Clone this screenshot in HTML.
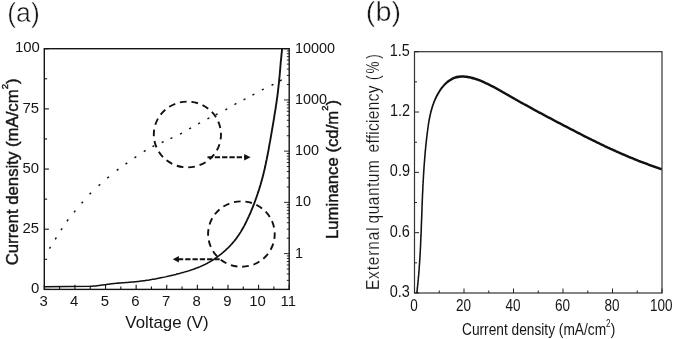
<!DOCTYPE html>
<html lang="en"><head><meta charset="utf-8"><title>Figure</title>
<style>html,body{margin:0;padding:0;background:#fff;}body{width:674px;height:339px;overflow:hidden;}#fig{width:674px;height:339px;will-change:transform;}svg{display:block;}text{font-family:"Liberation Sans", Arial, Helvetica, sans-serif;fill:#151515;}</style></head><body><div id="fig">
<svg width="674" height="339" viewBox="0 0 674 339">
<rect x="0" y="0" width="674" height="339" fill="#ffffff"/>
<rect x="44.30" y="48.70" width="244.90" height="240.70" fill="none" stroke="#151515" stroke-width="1.4"/>
<line x1="44.30" y1="289.40" x2="48.90" y2="289.40" stroke="#151515" stroke-width="1.10" />
<line x1="44.30" y1="259.31" x2="47.10" y2="259.31" stroke="#151515" stroke-width="1.10" />
<line x1="44.30" y1="229.22" x2="48.90" y2="229.22" stroke="#151515" stroke-width="1.10" />
<line x1="44.30" y1="199.14" x2="47.10" y2="199.14" stroke="#151515" stroke-width="1.10" />
<line x1="44.30" y1="169.05" x2="48.90" y2="169.05" stroke="#151515" stroke-width="1.10" />
<line x1="44.30" y1="138.96" x2="47.10" y2="138.96" stroke="#151515" stroke-width="1.10" />
<line x1="44.30" y1="108.88" x2="48.90" y2="108.88" stroke="#151515" stroke-width="1.10" />
<line x1="44.30" y1="78.79" x2="47.10" y2="78.79" stroke="#151515" stroke-width="1.10" />
<line x1="44.30" y1="48.70" x2="48.90" y2="48.70" stroke="#151515" stroke-width="1.10" />
<line x1="44.30" y1="289.40" x2="44.30" y2="284.80" stroke="#151515" stroke-width="1.10" />
<line x1="59.61" y1="289.40" x2="59.61" y2="286.60" stroke="#151515" stroke-width="1.10" />
<line x1="74.91" y1="289.40" x2="74.91" y2="284.80" stroke="#151515" stroke-width="1.10" />
<line x1="90.22" y1="289.40" x2="90.22" y2="286.60" stroke="#151515" stroke-width="1.10" />
<line x1="105.52" y1="289.40" x2="105.52" y2="284.80" stroke="#151515" stroke-width="1.10" />
<line x1="120.83" y1="289.40" x2="120.83" y2="286.60" stroke="#151515" stroke-width="1.10" />
<line x1="136.14" y1="289.40" x2="136.14" y2="284.80" stroke="#151515" stroke-width="1.10" />
<line x1="151.44" y1="289.40" x2="151.44" y2="286.60" stroke="#151515" stroke-width="1.10" />
<line x1="166.75" y1="289.40" x2="166.75" y2="284.80" stroke="#151515" stroke-width="1.10" />
<line x1="182.06" y1="289.40" x2="182.06" y2="286.60" stroke="#151515" stroke-width="1.10" />
<line x1="197.36" y1="289.40" x2="197.36" y2="284.80" stroke="#151515" stroke-width="1.10" />
<line x1="212.67" y1="289.40" x2="212.67" y2="286.60" stroke="#151515" stroke-width="1.10" />
<line x1="227.97" y1="289.40" x2="227.97" y2="284.80" stroke="#151515" stroke-width="1.10" />
<line x1="243.28" y1="289.40" x2="243.28" y2="286.60" stroke="#151515" stroke-width="1.10" />
<line x1="258.59" y1="289.40" x2="258.59" y2="284.80" stroke="#151515" stroke-width="1.10" />
<line x1="273.89" y1="289.40" x2="273.89" y2="286.60" stroke="#151515" stroke-width="1.10" />
<line x1="289.20" y1="289.40" x2="289.20" y2="284.80" stroke="#151515" stroke-width="1.10" />
<line x1="289.20" y1="280.38" x2="286.80" y2="280.38" stroke="#151515" stroke-width="0.90" />
<line x1="289.20" y1="273.98" x2="286.80" y2="273.98" stroke="#151515" stroke-width="0.90" />
<line x1="289.20" y1="269.02" x2="286.80" y2="269.02" stroke="#151515" stroke-width="0.90" />
<line x1="289.20" y1="264.96" x2="286.80" y2="264.96" stroke="#151515" stroke-width="0.90" />
<line x1="289.20" y1="261.53" x2="286.80" y2="261.53" stroke="#151515" stroke-width="0.90" />
<line x1="289.20" y1="258.56" x2="286.80" y2="258.56" stroke="#151515" stroke-width="0.90" />
<line x1="289.20" y1="255.94" x2="286.80" y2="255.94" stroke="#151515" stroke-width="0.90" />
<line x1="289.20" y1="253.60" x2="284.00" y2="253.60" stroke="#151515" stroke-width="0.90" />
<line x1="289.20" y1="238.18" x2="286.80" y2="238.18" stroke="#151515" stroke-width="0.90" />
<line x1="289.20" y1="229.16" x2="286.80" y2="229.16" stroke="#151515" stroke-width="0.90" />
<line x1="289.20" y1="222.76" x2="286.80" y2="222.76" stroke="#151515" stroke-width="0.90" />
<line x1="289.20" y1="217.80" x2="286.80" y2="217.80" stroke="#151515" stroke-width="0.90" />
<line x1="289.20" y1="213.74" x2="286.80" y2="213.74" stroke="#151515" stroke-width="0.90" />
<line x1="289.20" y1="210.31" x2="286.80" y2="210.31" stroke="#151515" stroke-width="0.90" />
<line x1="289.20" y1="207.34" x2="286.80" y2="207.34" stroke="#151515" stroke-width="0.90" />
<line x1="289.20" y1="204.72" x2="286.80" y2="204.72" stroke="#151515" stroke-width="0.90" />
<line x1="289.20" y1="202.38" x2="284.00" y2="202.38" stroke="#151515" stroke-width="0.90" />
<line x1="289.20" y1="186.95" x2="286.80" y2="186.95" stroke="#151515" stroke-width="0.90" />
<line x1="289.20" y1="177.93" x2="286.80" y2="177.93" stroke="#151515" stroke-width="0.90" />
<line x1="289.20" y1="171.53" x2="286.80" y2="171.53" stroke="#151515" stroke-width="0.90" />
<line x1="289.20" y1="166.57" x2="286.80" y2="166.57" stroke="#151515" stroke-width="0.90" />
<line x1="289.20" y1="162.51" x2="286.80" y2="162.51" stroke="#151515" stroke-width="0.90" />
<line x1="289.20" y1="159.08" x2="286.80" y2="159.08" stroke="#151515" stroke-width="0.90" />
<line x1="289.20" y1="156.11" x2="286.80" y2="156.11" stroke="#151515" stroke-width="0.90" />
<line x1="289.20" y1="153.49" x2="286.80" y2="153.49" stroke="#151515" stroke-width="0.90" />
<line x1="289.20" y1="151.15" x2="284.00" y2="151.15" stroke="#151515" stroke-width="0.90" />
<line x1="289.20" y1="135.73" x2="286.80" y2="135.73" stroke="#151515" stroke-width="0.90" />
<line x1="289.20" y1="126.71" x2="286.80" y2="126.71" stroke="#151515" stroke-width="0.90" />
<line x1="289.20" y1="120.31" x2="286.80" y2="120.31" stroke="#151515" stroke-width="0.90" />
<line x1="289.20" y1="115.35" x2="286.80" y2="115.35" stroke="#151515" stroke-width="0.90" />
<line x1="289.20" y1="111.29" x2="286.80" y2="111.29" stroke="#151515" stroke-width="0.90" />
<line x1="289.20" y1="107.86" x2="286.80" y2="107.86" stroke="#151515" stroke-width="0.90" />
<line x1="289.20" y1="104.89" x2="286.80" y2="104.89" stroke="#151515" stroke-width="0.90" />
<line x1="289.20" y1="102.27" x2="286.80" y2="102.27" stroke="#151515" stroke-width="0.90" />
<line x1="289.20" y1="99.93" x2="284.00" y2="99.93" stroke="#151515" stroke-width="0.90" />
<line x1="289.20" y1="84.50" x2="286.80" y2="84.50" stroke="#151515" stroke-width="0.90" />
<line x1="289.20" y1="75.48" x2="286.80" y2="75.48" stroke="#151515" stroke-width="0.90" />
<line x1="289.20" y1="69.08" x2="286.80" y2="69.08" stroke="#151515" stroke-width="0.90" />
<line x1="289.20" y1="64.12" x2="286.80" y2="64.12" stroke="#151515" stroke-width="0.90" />
<line x1="289.20" y1="60.06" x2="286.80" y2="60.06" stroke="#151515" stroke-width="0.90" />
<line x1="289.20" y1="56.63" x2="286.80" y2="56.63" stroke="#151515" stroke-width="0.90" />
<line x1="289.20" y1="53.66" x2="286.80" y2="53.66" stroke="#151515" stroke-width="0.90" />
<line x1="289.20" y1="51.04" x2="286.80" y2="51.04" stroke="#151515" stroke-width="0.90" />
<line x1="289.20" y1="48.70" x2="284.00" y2="48.70" stroke="#151515" stroke-width="0.90" />
<text transform="translate(31.08,293.15) scale(1.0000,1)" font-size="14.90" >0</text>
<text transform="translate(22.44,232.97) scale(1.0000,1)" font-size="14.90" >25</text>
<text transform="translate(22.40,172.80) scale(1.0000,1)" font-size="14.90" >50</text>
<text transform="translate(22.44,112.62) scale(1.0000,1)" font-size="14.90" >75</text>
<text transform="translate(14.91,52.45) scale(1.0000,1)" font-size="14.90" >100</text>
<text transform="translate(39.50,305.60) scale(1.0000,1)" font-size="14.90" >3</text>
<text transform="translate(70.12,305.60) scale(1.0000,1)" font-size="14.90" >4</text>
<text transform="translate(100.69,305.60) scale(1.0000,1)" font-size="14.90" >5</text>
<text transform="translate(131.24,305.60) scale(1.0000,1)" font-size="14.90" >6</text>
<text transform="translate(161.90,305.60) scale(1.0000,1)" font-size="14.90" >7</text>
<text transform="translate(192.52,305.60) scale(1.0000,1)" font-size="14.90" >8</text>
<text transform="translate(223.14,305.60) scale(1.0000,1)" font-size="14.90" >9</text>
<text transform="translate(249.32,305.60) scale(1.0000,1)" font-size="14.90" >10</text>
<text transform="translate(280.56,305.60) scale(1.0000,1)" font-size="14.90" >11</text>
<text transform="translate(295.00,52.70) scale(0.9700,1)" font-size="14.90" >10000</text>
<text transform="translate(295.00,103.93) scale(0.9700,1)" font-size="14.90" >1000</text>
<text transform="translate(295.00,155.15) scale(0.9700,1)" font-size="14.90" >100</text>
<text transform="translate(295.00,206.38) scale(0.9700,1)" font-size="14.90" >10</text>
<text transform="translate(295.00,257.60) scale(0.9700,1)" font-size="14.90" >1</text>
<text transform="translate(125.33,328.30) scale(1.0145,1)" font-size="16.60" >Voltage (V)</text>
<text transform="translate(17.80,265.34) rotate(-90) scale(0.9860,1)" font-size="17.00" stroke="#151515" stroke-width="0.42">Current density (mA/cm<tspan dy="-9.35" font-size="9.77">2</tspan><tspan dy="9.35">)</tspan></text>
<text transform="translate(338.20,239.07) rotate(-90) scale(0.9842,1)" font-size="17.00" stroke="#151515" stroke-width="0.42">Luminance (cd/m<tspan dy="-10.20" font-size="9.52">2</tspan><tspan dy="10.20">)</tspan></text>
<text transform="translate(7.25,21.50) scale(0.9850,1)" font-size="27.00" stroke="#fff" stroke-width="0.45">(a)</text>
<g transform="scale(1,0.800)">
<path d="M44.4 358.4 L90.0 357.7 L90.0 357.9 L91.2 357.8 L92.4 357.7 L93.6 357.6 L94.8 357.5 L95.9 357.4 L97.1 357.2 L98.3 357.0 L99.5 356.8 L100.7 356.6 L101.8 356.4 L103.0 356.2 L104.2 356.0 L105.4 355.8 L106.6 355.6 L107.7 355.4 L108.9 355.2 L110.1 355.0 L111.3 354.8 L112.4 354.7 L113.6 354.5 L114.8 354.3 L116.0 354.2 L117.2 354.1 L118.4 353.9 L119.5 353.8 L120.7 353.7 L121.9 353.5 L123.1 353.4 L124.3 353.3 L125.5 353.2 L126.7 353.1 L127.8 353.0 L129.0 352.8 L130.2 352.7 L131.4 352.6 L132.6 352.5 L133.8 352.4 L134.9 352.2 L136.1 352.1 L137.3 351.9 L138.5 351.8 L139.7 351.6 L140.9 351.4 L142.0 351.2 L143.2 351.0 L144.4 350.8 L145.6 350.6 L146.7 350.4 L147.9 350.2 L149.1 350.0 L150.3 349.7 L151.4 349.5 L152.6 349.2 L153.8 349.0 L155.0 348.7 L156.1 348.5 L157.3 348.2 L158.5 347.9 L159.6 347.6 L160.8 347.3 L162.0 347.0 L163.1 346.7 L164.3 346.4 L165.5 346.1 L166.6 345.8 L167.8 345.4 L168.9 345.1 L170.1 344.7 L171.3 344.4 L172.4 344.0 L173.6 343.7 L174.7 343.3 L175.9 343.0 L177.0 342.6 L178.2 342.2 L179.4 341.8 L180.5 341.4 L181.7 341.0 L182.8 340.6 L184.0 340.2 L185.1 339.8 L186.2 339.4 L187.4 339.0 L188.5 338.6 L189.7 338.1 L190.8 337.7 L191.9 337.2 L193.0 336.7 L194.2 336.2 L195.3 335.7 L196.4 335.2 L197.5 334.7 L198.6 334.1 L199.7 333.6 L200.8 333.0 L201.9 332.4 L203.0 331.8 L204.0 331.1 L205.1 330.5 L206.1 329.8 L207.2 329.1 L208.2 328.4 L209.3 327.7 L210.3 326.9 L211.3 326.2 L212.3 325.4 L213.3 324.6 L214.3 323.8 L215.3 322.9 L216.3 322.1 L217.3 321.2 L218.2 320.3 L219.2 319.4 L220.1 318.5 L221.1 317.6 L222.0 316.6 L222.9 315.7 L223.8 314.7 L224.7 313.7 L225.6 312.7 L226.5 311.7 L227.3 310.7 L228.2 309.7 L229.0 308.6 L229.9 307.5 L230.7 306.4 L231.5 305.4 L232.3 304.2 L233.0 303.1 L233.8 302.0 L234.6 300.8 L235.3 299.7 L236.0 298.5 L236.7 297.3 L237.4 296.1 L238.1 294.9 L238.8 293.7 L239.4 292.5 L240.1 291.2 L240.7 290.0 L241.3 288.7 L241.9 287.4 L242.5 286.1 L243.1 284.8 L243.7 283.5 L244.3 282.2 L244.8 280.9 L245.4 279.6 L245.9 278.2 L246.4 276.9 L246.9 275.6 L247.4 274.2 L247.9 272.9 L248.4 271.5 L248.9 270.2 L249.4 268.8 L249.9 267.4 L250.4 266.1 L250.9 264.7 L251.3 263.3 L251.8 262.0 L252.2 260.6 L252.7 259.2 L253.1 257.8 L253.6 256.4 L254.0 255.0 L254.4 253.7 L254.8 252.3 L255.2 250.9 L255.6 249.5 L256.0 248.1 L256.4 246.7 L256.8 245.3 L257.2 243.9 L257.6 242.4 L258.0 241.0 L258.3 239.6 L258.7 238.2 L259.1 236.8 L259.4 235.4 L259.8 233.9 L260.1 232.5 L260.5 231.1 L260.8 229.7 L261.1 228.2 L261.4 226.8 L261.8 225.4 L262.1 223.9 L262.4 222.5 L262.7 221.1 L263.0 219.6 L263.3 218.2 L263.6 216.7 L263.8 215.3 L264.1 213.9 L264.4 212.4 L264.7 211.0 L264.9 209.5 L265.2 208.1 L265.4 206.6 L265.7 205.2 L265.9 203.7 L266.2 202.2 L266.4 200.8 L266.7 199.3 L266.9 197.9 L267.1 196.4 L267.4 195.0 L267.6 193.5 L267.8 192.0 L268.0 190.6 L268.3 189.1 L268.5 187.6 L268.7 186.2 L268.9 184.7 L269.1 183.2 L269.3 181.8 L269.5 180.3 L269.7 178.8 L270.0 177.4 L270.2 175.9 L270.4 174.4 L270.6 173.0 L270.8 171.5 L271.0 170.0 L271.2 168.6 L271.4 167.1 L271.6 165.6 L271.8 164.2 L272.0 162.7 L272.2 161.2 L272.4 159.8 L272.6 158.3 L272.8 156.8 L273.0 155.4 L273.2 153.9 L273.4 152.4 L273.6 151.0 L273.8 149.5 L274.0 148.0 L274.2 146.6 L274.3 145.1 L274.5 143.6 L274.7 142.2 L274.9 140.7 L275.1 139.2 L275.3 137.8 L275.5 136.3 L275.7 134.8 L275.8 133.4 L276.0 131.9 L276.2 130.4 L276.4 128.9 L276.5 127.5 L276.7 126.0 L276.9 124.5 L277.0 123.1 L277.2 121.6 L277.4 120.1 L277.5 118.6 L277.7 117.2 L277.8 115.7 L278.0 114.2 L278.1 112.7 L278.2 111.2 L278.4 109.8 L278.5 108.3 L278.6 106.8 L278.8 105.3 L278.9 103.8 L279.0 102.4 L279.1 100.9 L279.2 99.4 L279.3 97.9 L279.5 96.4 L279.6 95.0 L279.7 93.5 L279.8 92.0 L279.9 90.5 L280.0 89.0 L280.1 87.5 L280.2 86.1 L280.3 84.6 L280.4 83.1 L280.5 81.6 L280.6 80.1 L280.7 78.6 L280.8 77.2 L280.9 75.7 L281.1 74.2 L281.2 72.7 L281.3 71.2 L281.4 69.8 L281.5 68.3 L281.6 66.8 L281.8 65.3 L281.9 63.8 L282.0 62.4 L282.1 60.9" fill="none" stroke="#111" stroke-width="1.90" stroke-linejoin="round"  />
</g>
<line x1="49.44" y1="248.59" x2="50.56" y2="246.81" stroke="#111" stroke-width="1.45" />
<line x1="55.24" y1="239.29" x2="56.36" y2="237.51" stroke="#111" stroke-width="1.45" />
<line x1="61.02" y1="230.18" x2="62.18" y2="228.42" stroke="#111" stroke-width="1.45" />
<line x1="66.98" y1="221.25" x2="68.22" y2="219.55" stroke="#111" stroke-width="1.45" />
<line x1="74.03" y1="212.21" x2="75.37" y2="210.59" stroke="#111" stroke-width="1.45" />
<line x1="81.61" y1="203.29" x2="82.99" y2="201.71" stroke="#111" stroke-width="1.45" />
<line x1="89.57" y1="194.15" x2="91.03" y2="192.65" stroke="#111" stroke-width="1.45" />
<line x1="98.62" y1="185.70" x2="100.18" y2="184.30" stroke="#111" stroke-width="1.45" />
<line x1="107.29" y1="178.07" x2="108.91" y2="176.73" stroke="#111" stroke-width="1.45" />
<line x1="116.76" y1="170.44" x2="118.44" y2="169.16" stroke="#111" stroke-width="1.45" />
<line x1="125.54" y1="164.10" x2="127.26" y2="162.90" stroke="#111" stroke-width="1.45" />
<line x1="134.53" y1="157.89" x2="136.27" y2="156.71" stroke="#111" stroke-width="1.45" />
<line x1="143.81" y1="151.55" x2="145.59" y2="150.45" stroke="#111" stroke-width="1.45" />
<line x1="152.46" y1="146.57" x2="154.34" y2="145.63" stroke="#111" stroke-width="1.45" />
<line x1="161.74" y1="142.53" x2="163.66" y2="141.67" stroke="#111" stroke-width="1.45" />
<line x1="170.45" y1="138.54" x2="172.35" y2="137.66" stroke="#111" stroke-width="1.45" />
<line x1="180.07" y1="134.19" x2="181.93" y2="133.21" stroke="#111" stroke-width="1.45" />
<line x1="189.19" y1="128.82" x2="191.01" y2="127.78" stroke="#111" stroke-width="1.45" />
<line x1="198.18" y1="123.90" x2="200.02" y2="122.90" stroke="#111" stroke-width="1.45" />
<line x1="207.47" y1="118.88" x2="209.33" y2="117.92" stroke="#111" stroke-width="1.45" />
<line x1="215.76" y1="114.77" x2="217.64" y2="113.83" stroke="#111" stroke-width="1.45" />
<line x1="225.38" y1="109.91" x2="227.22" y2="108.89" stroke="#111" stroke-width="1.45" />
<line x1="234.48" y1="104.51" x2="236.32" y2="103.49" stroke="#111" stroke-width="1.45" />
<line x1="243.57" y1="99.78" x2="245.43" y2="98.82" stroke="#111" stroke-width="1.45" />
<line x1="252.47" y1="95.20" x2="254.33" y2="94.20" stroke="#111" stroke-width="1.45" />
<line x1="261.87" y1="89.98" x2="263.73" y2="89.02" stroke="#111" stroke-width="1.45" />
<line x1="271.56" y1="85.27" x2="273.44" y2="84.33" stroke="#111" stroke-width="1.45" />
<line x1="279.87" y1="80.89" x2="281.73" y2="79.91" stroke="#111" stroke-width="1.45" />
<ellipse cx="187.4" cy="134.5" rx="33.6" ry="32.9" fill="none" stroke="#111" stroke-width="1.9" pathLength="180" stroke-dasharray="5.8 4.2" stroke-dashoffset="1.5"/>
<ellipse cx="241.4" cy="234.05" rx="33.3" ry="32.7" fill="none" stroke="#111" stroke-width="1.9" pathLength="180" stroke-dasharray="5.8 4.2" stroke-dashoffset="1.5"/>
<line x1="207.50" y1="157.30" x2="245.00" y2="157.30" stroke="#111" stroke-width="1.90" stroke-dasharray="5.3 2"/>
<polygon points="250.6,157.3 244.2,154.1 244.2,160.5" fill="#111"/>
<line x1="219.70" y1="259.20" x2="178.00" y2="259.20" stroke="#111" stroke-width="1.90" stroke-dasharray="5.3 2"/>
<polygon points="172.8,259.2 178.9,255.9 178.9,262.5" fill="#111"/>
<rect x="414.50" y="51.70" width="247.50" height="241.30" fill="none" stroke="#333" stroke-width="1.2"/>
<line x1="414.50" y1="293.00" x2="419.00" y2="293.00" stroke="#222" stroke-width="1.00" />
<line x1="414.50" y1="262.84" x2="417.00" y2="262.84" stroke="#222" stroke-width="1.00" />
<line x1="414.50" y1="232.68" x2="419.00" y2="232.68" stroke="#222" stroke-width="1.00" />
<line x1="414.50" y1="202.51" x2="417.00" y2="202.51" stroke="#222" stroke-width="1.00" />
<line x1="414.50" y1="172.35" x2="419.00" y2="172.35" stroke="#222" stroke-width="1.00" />
<line x1="414.50" y1="142.19" x2="417.00" y2="142.19" stroke="#222" stroke-width="1.00" />
<line x1="414.50" y1="112.02" x2="419.00" y2="112.02" stroke="#222" stroke-width="1.00" />
<line x1="414.50" y1="81.86" x2="417.00" y2="81.86" stroke="#222" stroke-width="1.00" />
<line x1="414.50" y1="51.70" x2="419.00" y2="51.70" stroke="#222" stroke-width="1.00" />
<line x1="414.50" y1="293.00" x2="414.50" y2="288.50" stroke="#222" stroke-width="1.00" />
<line x1="439.25" y1="293.00" x2="439.25" y2="290.50" stroke="#222" stroke-width="1.00" />
<line x1="464.00" y1="293.00" x2="464.00" y2="288.50" stroke="#222" stroke-width="1.00" />
<line x1="488.75" y1="293.00" x2="488.75" y2="290.50" stroke="#222" stroke-width="1.00" />
<line x1="513.50" y1="293.00" x2="513.50" y2="288.50" stroke="#222" stroke-width="1.00" />
<line x1="538.25" y1="293.00" x2="538.25" y2="290.50" stroke="#222" stroke-width="1.00" />
<line x1="563.00" y1="293.00" x2="563.00" y2="288.50" stroke="#222" stroke-width="1.00" />
<line x1="587.75" y1="293.00" x2="587.75" y2="290.50" stroke="#222" stroke-width="1.00" />
<line x1="612.50" y1="293.00" x2="612.50" y2="288.50" stroke="#222" stroke-width="1.00" />
<line x1="637.25" y1="293.00" x2="637.25" y2="290.50" stroke="#222" stroke-width="1.00" />
<line x1="662.00" y1="293.00" x2="662.00" y2="288.50" stroke="#222" stroke-width="1.00" />
<text transform="translate(389.78,297.00) scale(0.9000,1)" font-size="16.10" >0.3</text>
<text transform="translate(389.78,236.68) scale(0.9000,1)" font-size="16.10" >0.6</text>
<text transform="translate(389.84,176.35) scale(0.9000,1)" font-size="16.10" >0.9</text>
<text transform="translate(389.88,116.02) scale(0.9000,1)" font-size="16.10" >1.2</text>
<text transform="translate(389.75,55.70) scale(0.9000,1)" font-size="16.10" >1.5</text>
<text transform="translate(410.23,310.60) scale(0.8000,1)" font-size="16.90" >0</text>
<text transform="translate(455.90,310.60) scale(0.8000,1)" font-size="16.90" >20</text>
<text transform="translate(505.59,310.60) scale(0.8000,1)" font-size="16.90" >40</text>
<text transform="translate(554.90,310.60) scale(0.8000,1)" font-size="16.90" >60</text>
<text transform="translate(604.45,310.60) scale(0.8000,1)" font-size="16.90" >80</text>
<text transform="translate(649.97,310.60) scale(0.8000,1)" font-size="16.90" >100</text>
<text transform="translate(462.01,334.50) scale(0.7895,1)" font-size="17.40" >Current density (mA/cm<tspan dy="-7.66" font-size="10.44">2</tspan><tspan dy="7.66">)</tspan></text>
<text transform="translate(379.20,290.07) rotate(-90) scale(0.8400,1)" font-size="18.50" letter-spacing="0.986" stroke="#fff" stroke-width="0.15">External</text>
<text transform="translate(379.20,223.45) rotate(-90) scale(0.8400,1)" font-size="18.50" letter-spacing="0.572" stroke="#fff" stroke-width="0.15">quantum</text>
<text transform="translate(379.20,152.55) rotate(-90) scale(0.8400,1)" font-size="18.50" letter-spacing="0.343" stroke="#fff" stroke-width="0.15">efficiency</text>
<text transform="translate(379.20,79.94) rotate(-90) scale(0.7316,1)" font-size="18.50" stroke="#fff" stroke-width="0.15">(</text>
<text transform="translate(379.20,73.47) rotate(-90) scale(0.7260,1)" font-size="18.50" stroke="#fff" stroke-width="0.15">%</text>
<text transform="translate(379.20,58.67) rotate(-90) scale(0.7112,1)" font-size="18.50" stroke="#fff" stroke-width="0.15">)</text>
<text transform="translate(365.82,20.90) scale(1.0659,1)" font-size="27.00" stroke="#fff" stroke-width="0.45">(b)</text>
<g transform="scale(0.600,1)">
<path d="M694.7 293.0 L695.0 291.5 L695.3 290.0 L695.5 288.5 L695.8 287.0 L696.1 285.5 L696.3 284.0 L696.6 282.4 L696.8 280.9 L697.1 279.4 L697.3 277.9 L697.5 276.4 L697.8 274.9 L698.0 273.4 L698.2 271.9 L698.4 270.4 L698.6 268.9 L698.7 267.4 L698.9 265.8 L699.1 264.3 L699.3 262.8 L699.4 261.3 L699.6 259.8 L699.8 258.3 L699.9 256.8 L700.1 255.3 L700.2 253.7 L700.3 252.2 L700.5 250.7 L700.6 249.2 L700.7 247.7 L700.9 246.2 L701.0 244.6 L701.1 243.1 L701.2 241.6 L701.3 240.1 L701.4 238.6 L701.5 237.1 L701.7 235.5 L701.8 234.0 L701.9 232.5 L702.0 231.0 L702.1 229.5 L702.1 227.9 L702.2 226.4 L702.3 224.9 L702.4 223.4 L702.5 221.9 L702.6 220.3 L702.7 218.8 L702.8 217.3 L702.9 215.8 L703.0 214.3 L703.1 212.8 L703.2 211.2 L703.3 209.7 L703.3 208.2 L703.4 206.7 L703.5 205.2 L703.6 203.6 L703.7 202.1 L703.8 200.6 L703.9 199.1 L704.0 197.6 L704.1 196.0 L704.2 194.5 L704.4 193.0 L704.5 191.5 L704.6 190.0 L704.7 188.5 L704.8 186.9 L704.9 185.4 L705.1 183.9 L705.2 182.4 L705.3 180.9 L705.5 179.4 L705.6 177.9 L705.8 176.3 L705.9 174.8 L706.1 173.3 L706.2 171.8 L706.4 170.3 L706.6 168.8 L706.7 167.3 L706.9 165.7 L707.1 164.2 L707.3 162.7 L707.5 161.2 L707.7 159.7 L707.9 158.2 L708.1 156.7 L708.3 155.2 L708.5 153.7 L708.7 152.1 L709.0 150.6 L709.2 149.1 L709.4 147.6 L709.7 146.1 L709.9 144.6 L710.2 143.1 L710.5 141.6 L710.8 140.1 L711.0 138.6 L711.3 137.1 L711.6 135.5 L711.9 134.0 L712.2 132.5 L712.6 131.0 L712.9 129.5 L713.2 128.0 L713.6 126.5 L713.9 125.0 L714.3 123.5 L714.7 122.0 L715.1 120.5 L715.6 119.0 L716.1 117.5 L716.6 116.0 L717.1 114.5 L717.7 113.1 L718.3 111.6 L719.0 110.1 L719.7 108.6 L720.4 107.2 L721.2 105.7 L722.0 104.3 L722.9 102.8 L723.8 101.4 L724.8 99.9 L725.9 98.5 L727.0 97.1 L728.2 95.7 L729.4 94.3 L730.7 93.0 L732.1 91.6 L733.5 90.3 L734.9 89.1 L736.4 87.8 L738.0 86.7 L739.6 85.5 L741.3 84.4 L743.1 83.4 L744.8 82.4 L746.7 81.5 L748.6 80.7 L750.6 79.9 L752.6 79.2 L754.6 78.5 L756.7 78.0 L758.9 77.5 L761.1 77.1 L763.4 76.9 L765.7 76.7 L768.1 76.5 L770.5 76.5 L772.9 76.5 L775.4 76.7 L777.8 76.8 L780.3 77.1 L782.8 77.3 L785.3 77.7 L787.8 78.1 L790.4 78.5 L792.9 79.0 L795.3 79.5 L797.8 80.0 L800.3 80.6 L802.7 81.2 L805.1 81.8 L807.5 82.5 L809.9 83.2 L812.2 83.8 L814.6 84.5 L816.9 85.2 L819.2 85.9 L821.4 86.6 L823.7 87.3 L826.0 88.1 L828.2 88.8 L830.4 89.5 L832.6 90.3 L834.8 91.0 L837.0 91.7 L839.2 92.5 L841.4 93.2 L843.6 94.0 L845.7 94.7 L847.9 95.5 L850.1 96.2 L852.3 97.0 L854.4 97.7 L856.6 98.4 L858.8 99.2 L861.0 99.9 L863.2 100.7 L865.3 101.4 L867.5 102.2 L869.7 102.9 L871.9 103.6 L874.1 104.4 L876.3 105.1 L878.5 105.8 L880.8 106.6 L883.0 107.3 L885.2 108.0 L887.4 108.7 L889.6 109.5 L891.8 110.2 L894.1 110.9 L896.3 111.7 L898.5 112.4 L900.7 113.1 L903.0 113.8 L905.2 114.5 L907.4 115.3 L909.7 116.0 L911.9 116.7 L914.2 117.4 L916.4 118.1 L918.6 118.8 L920.9 119.5 L923.1 120.3 L925.4 121.0 L927.6 121.7 L929.9 122.4 L932.1 123.1 L934.4 123.8 L936.6 124.5 L938.8 125.2 L941.1 125.9 L943.3 126.6 L945.6 127.3 L947.8 128.0 L950.1 128.7 L952.3 129.4 L954.6 130.1 L956.8 130.8 L959.1 131.5 L961.3 132.2 L963.6 132.9 L965.8 133.6 L968.1 134.3 L970.4 135.0 L972.6 135.7 L974.9 136.4 L977.1 137.1 L979.4 137.7 L981.7 138.4 L983.9 139.1 L986.2 139.8 L988.5 140.4 L990.7 141.1 L993.0 141.8 L995.3 142.5 L997.5 143.1 L999.8 143.8 L1002.1 144.4 L1004.4 145.1 L1006.7 145.7 L1008.9 146.4 L1011.2 147.0 L1013.5 147.7 L1015.8 148.3 L1018.1 149.0 L1020.4 149.6 L1022.7 150.2 L1025.0 150.8 L1027.3 151.5 L1029.6 152.1 L1031.9 152.7 L1034.2 153.3 L1036.6 153.9 L1038.9 154.5 L1041.2 155.1 L1043.5 155.7 L1045.8 156.3 L1048.2 156.9 L1050.5 157.5 L1052.8 158.1 L1055.2 158.6 L1057.5 159.2 L1059.9 159.8 L1062.2 160.3 L1064.6 160.9 L1066.9 161.4 L1069.3 162.0 L1071.7 162.5 L1074.0 163.1 L1076.4 163.6 L1078.8 164.1 L1081.2 164.7 L1083.6 165.2 L1086.0 165.7 L1088.4 166.2 L1090.8 166.7 L1093.2 167.2 L1095.6 167.7 L1098.0 168.2 L1100.4 168.7 L1102.8 169.1" fill="none" stroke="#111" stroke-width="2.60" stroke-linejoin="round"  />
</g>
</svg></div></body></html>
